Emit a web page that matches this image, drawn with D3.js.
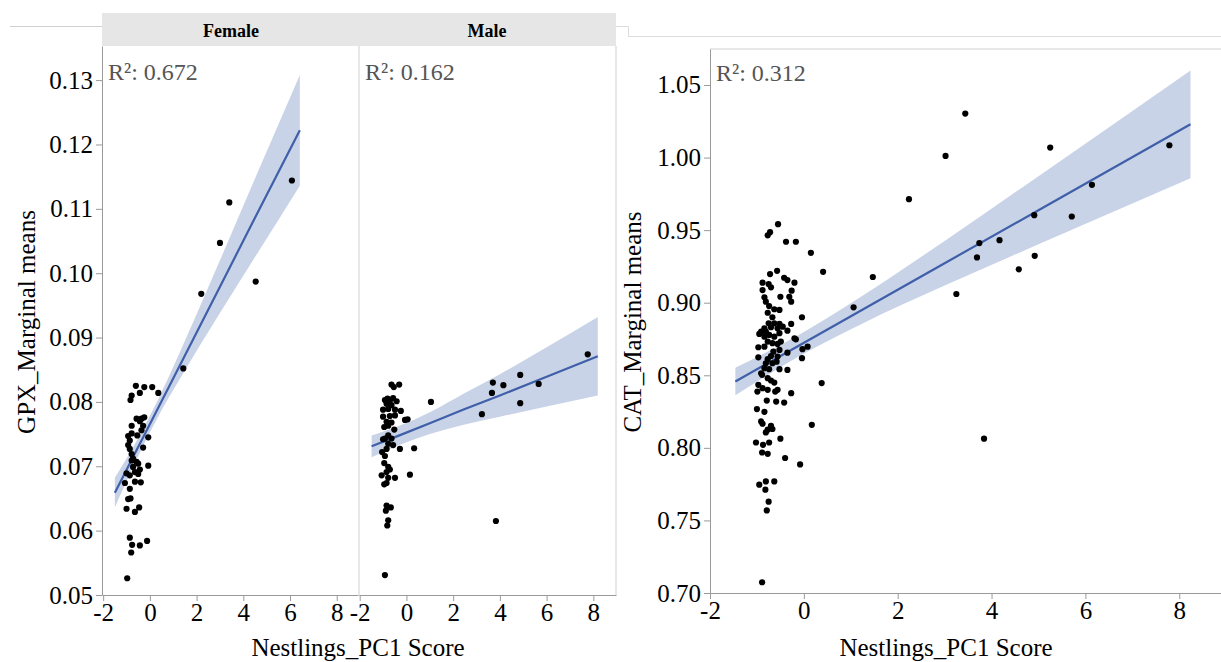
<!DOCTYPE html>
<html>
<head>
<meta charset="utf-8">
<script src="https://cdn.jsdelivr.net/npm/d3@7"></script>
<style>
  body { margin: 0; background: #fff; }
  svg, svg text { font-family: "Liberation Serif", "Times New Roman", Times, serif !important; }
</style>
</head>
<body>
<div id="chart"></div>
<script>
// ---- data ----
var femaleX = [1.43,-0.60,-0.78,-0.83,-0.43,-0.24,0.10,0.36,-0.57,-0.36,-0.24,-0.43,-0.78,-0.29,-0.36,-0.54,-0.78,-0.93,-0.07,-0.86,
  -0.93,-0.29,-0.86,-0.78,-0.72,-0.78,-0.57,-0.50,-0.07,-0.72,-0.43,-1.00,-0.64,-0.86,-0.50,-1.07,-0.64,-0.39,-0.86,-0.93,
  -0.83,-1.00,-0.64,-0.46,-0.86,-0.76,-0.80,-0.43,-0.12,-0.97,6.08,3.40,3.00,2.20,4.53]
var femaleY = [0.0852,0.0825,0.0810,0.0803,0.0814,0.0823,0.0823,0.0814,0.0774,0.0774,0.0776,0.0770,0.0763,0.0763,0.0756,0.0748,0.0751,0.0747,0.0745,0.0740,
  0.0733,0.0729,0.0727,0.0719,0.0712,0.0709,0.0707,0.0704,0.0701,0.0699,0.0695,0.0689,0.0691,0.0686,0.0688,0.0674,0.0676,0.0675,0.0665,0.0649,
  0.0650,0.0634,0.0629,0.0636,0.0589,0.0578,0.0566,0.0577,0.0584,0.0526,0.1144,0.1110,0.1047,0.0968,0.0987]

var maleX = [7.76,4.87,3.70,4.15,5.66,3.66,4.87,1.05,3.23,0.33,0.15,3.83,-0.92,
  -0.64,-0.54,-0.31,-0.92,-0.81,-0.71,-0.57,-0.42,-0.85,-0.64,-1.00,-0.78,-0.49,-0.24,-1.00,-0.71,-0.49,-0.06,0.05,
  -0.85,-0.64,-0.95,-0.78,-0.52,-0.78,-0.92,-0.64,-1.00,-0.57,-0.78,-0.85,-0.28,-1.04,-0.92,-0.95,-0.78,-0.71,-0.85,
  -1.06,-0.78,-0.49,-0.95,-0.85,-0.85,-0.67,-0.88,-0.78,-0.82]
var maleY = [0.0874,0.0842,0.0830,0.0826,0.0828,0.0814,0.0798,0.0800,0.0781,0.0728,0.0687,0.0615,0.0531,
  0.0827,0.0823,0.0827,0.0803,0.0805,0.0802,0.0806,0.0801,0.0797,0.0795,0.0788,0.0789,0.0788,0.0786,0.0777,0.0778,0.0779,0.0772,0.0773,
  0.0769,0.0768,0.0761,0.0763,0.0757,0.0748,0.0743,0.0743,0.0742,0.0733,0.0735,0.0727,0.0727,0.0722,0.0716,0.0705,0.0699,0.0695,0.0691,
  0.0686,0.0682,0.0682,0.0672,0.0674,0.0639,0.0636,0.0631,0.0616,0.0608]

var catX = [-0.55,-0.72,-0.77,-0.38,-0.17,0.15,-0.57,0.41,-0.72,-0.42,-0.35,-0.20,-0.88,-0.75,-0.88,-0.70,-0.26,-0.50,-0.31,-0.27,
  -0.84,-0.81,-0.74,-0.63,-0.52,-0.77,1.06,-0.04,-0.67,-0.75,-0.63,-0.52,-0.27,-0.84,-0.91,-0.81,-0.70,-0.56,-0.45,-0.35,
  -0.95,-0.84,-0.74,-0.63,-0.52,-0.20,-0.17,-0.77,-0.67,-0.56,-0.49,-0.97,-0.84,-0.03,0.08,-0.65,-0.52,-0.35,-0.56,-0.97,
  -0.77,-0.70,-0.04,-0.67,-0.58,-0.81,-0.84,-0.74,-0.52,-0.35,-0.91,-0.89,-0.77,-0.70,-0.63,-0.97,-0.88,0.38,-0.99,-0.77,
  -0.61,-0.56,-0.27,-0.79,-0.59,-0.42,-1.00,-0.84,-0.91,-0.88,-0.70,-0.67,-0.77,-0.81,0.17,-0.50,-1.02,-0.87,-0.74,-0.89,
  -0.77,-0.40,-0.08,-0.95,-0.81,-0.63,-0.82,-0.75,-0.79,-0.89,
  3.44,3.02,5.25,7.79,2.24,6.14,4.91,5.71,3.74,4.17,3.69,4.92,4.58,1.47,3.25,3.84]
var catY = [0.9541,0.9486,0.9464,0.9420,0.9420,0.9344,0.9220,0.9213,0.9197,0.9172,0.9156,0.9138,0.9138,0.9129,0.9087,0.9106,0.9083,0.9041,0.9041,0.9007,
  0.9037,0.9007,0.8977,0.8955,0.8950,0.8931,0.8968,0.8900,0.8900,0.8858,0.8858,0.8854,0.8854,0.8824,0.8801,0.8801,0.8831,0.8824,0.8835,0.8807,
  0.8785,0.8766,0.8778,0.8766,0.8790,0.8755,0.8748,0.8732,0.8721,0.8716,0.8732,0.8693,0.8697,0.8680,0.8697,0.8663,0.8675,0.8656,0.8629,0.8624,
  0.8611,0.8633,0.8618,0.8583,0.8594,0.8583,0.8549,0.8542,0.8542,0.8537,0.8514,0.8503,0.8480,0.8464,0.8450,0.8434,0.8411,0.8446,0.8388,0.8400,
  0.8388,0.8400,0.8377,0.8326,0.8319,0.8312,0.8267,0.8248,0.8182,0.8166,0.8152,0.8130,0.8125,0.8106,0.8159,0.8063,0.8037,0.8021,0.8037,0.7968,
  0.7959,0.7930,0.7886,0.7746,0.7769,0.7769,0.7712,0.7629,0.7569,0.7074,
  1.0303,1.0011,1.0069,1.0085,0.9713,0.9812,0.9603,0.9594,0.9411,0.9431,0.9312,0.9323,0.9230,0.9177,0.9060,0.8063]

// fitted line and 95% band, sampled along x
var femaleFitX  = [-1.5, -0.5, 0.5, 1.5, 3, 4.5, 6.42]
var femaleFit   = [0.0659, 0.0730, 0.0801, 0.0872, 0.0979, 0.1086, 0.1222]
var femaleLo    = [0.0636, 0.0716, 0.0787, 0.0849, 0.0938, 0.1025, 0.1136]
var femaleHi    = [0.0682, 0.0744, 0.0815, 0.0895, 0.1020, 0.1147, 0.1308]

var maleFitX = [-1.49, -0.3, 1, 2.5, 4, 6, 8.19]
var maleFit  = [0.0731, 0.0748, 0.0767, 0.0789, 0.0810, 0.0839, 0.0871]
var maleLo   = [0.0714, 0.0733, 0.0750, 0.0765, 0.0777, 0.0793, 0.0810]
var maleHi   = [0.0748, 0.0763, 0.0784, 0.0814, 0.0843, 0.0885, 0.0932]

var catFitX = [-1.46, -0.1, 1.2, 3, 5, 8.24]
var catFit  = [0.8457, 0.8705, 0.8943, 0.9272, 0.9637, 1.0229]
var catLo   = [0.8362, 0.8631, 0.8849, 0.9118, 0.9402, 0.9858]
var catHi   = [0.8552, 0.8779, 0.9037, 0.9426, 0.9872, 1.0600]

var xTicks = [-2, 0, 2, 4, 6, 8]
var gpxTicks = [0.05, 0.06, 0.07, 0.08, 0.09, 0.10, 0.11, 0.12, 0.13]
var catTicks = [0.70, 0.75, 0.80, 0.85, 0.90, 0.95, 1.00, 1.05]

var serif = '"Liberation Serif", "Times New Roman", Times, serif'
var axisGray = '#9a9a9a'
var bandFill = '#c9d3e8'
var lineBlue = '#3f5fa8'

var svg = d3.select('#chart').append('svg')
  .attr('width', 1221).attr('height', 662)
  .style('font-family', serif)

// decorative frame lines from the composite figure
svg.append('line').attr('x1', 10).attr('x2', 102).attr('y1', 26.5).attr('y2', 26.5)
  .attr('stroke', '#d0d0d0')
svg.append('path').attr('d', 'M616,26.5H628.5V36.5H1221')
  .attr('fill', 'none').attr('stroke', '#dcdcdc')

// header strip
svg.append('rect').attr('x', 102).attr('y', 13).attr('width', 514).attr('height', 33)
  .attr('fill', '#e6e6e6')
svg.append('text').attr('x', 231).attr('y', 37).attr('text-anchor', 'middle')
  .style('font-family', serif)
  .attr('font-size', '18px').attr('font-weight', 'bold').text('Female')
svg.append('text').attr('x', 487).attr('y', 37).attr('text-anchor', 'middle')
  .style('font-family', serif)
  .attr('font-size', '18px').attr('font-weight', 'bold').text('Male')

// y scales
var gpxY = d3.scaleLinear().domain([0.05, 0.1353]).range([595, 46])
var catYs = d3.scaleLinear().domain([0.70, 1.0748]).range([593, 49])

function zip(a, b) { return a.map(function(v, i){ return [v, b[i]] }) }

function styleAxis(sel) {
  sel.attr('font-family', serif)
  sel.selectAll('path, line').attr('stroke', axisGray)
  sel.selectAll('text').attr('font-size', '25px').attr('fill', '#000')
    .style('font-family', serif)
}

var clipId = 0
function drawPanel(p) {
  var g = svg.append('g')
  var x = p.x
  var y = p.y
  var r = x.range(), yr = y.range()
  clipId++
  svg.append('clipPath').attr('id', 'clip' + clipId).append('rect')
    .attr('x', r[0]).attr('y', yr[1]).attr('width', r[1] - r[0]).attr('height', yr[0] - yr[1])
  var inner = g.append('g').attr('clip-path', 'url(#clip' + clipId + ')')

  // confidence band
  var bandData = p.fitX.map(function(v, i){ return {x: v, lo: p.lo[i], hi: p.hi[i]} })
  inner.append('path').datum(bandData)
    .attr('fill', bandFill)
    .attr('d', d3.area().curve(d3.curveMonotoneX)
      .x(function(d){ return x(d.x) })
      .y0(function(d){ return y(d.lo) })
      .y1(function(d){ return y(d.hi) }))
  // fit line
  inner.append('path').datum(zip(p.fitX, p.fit))
    .attr('fill', 'none').attr('stroke', lineBlue).attr('stroke-width', 2.2)
    .attr('d', d3.line().x(function(d){ return x(d[0]) }).y(function(d){ return y(d[1]) }))
  // points
  inner.selectAll('circle').data(zip(p.px, p.py)).enter().append('circle')
    .attr('cx', function(d){ return x(d[0]) })
    .attr('cy', function(d){ return y(d[1]) })
    .attr('r', 3.1).attr('fill', '#000')

  // x axis, minor then major
  var minor = d3.range(-2, 9, 1)
  var xa = g.append('g').attr('transform', 'translate(0,' + yr[0] + ')')
  xa.call(d3.axisBottom(x).tickValues(minor).tickSize(3).tickFormat(''))
  xa.call(d3.axisBottom(x).tickValues(xTicks).tickSize(6).tickSizeOuter(0).tickPadding(2)
    .tickFormat(function(d){ return d < 0 ? '-' + Math.abs(d) : String(d) }))
  styleAxis(xa)

  // R² label
  g.append('text').attr('x', r[0] + 6).attr('y', p.r2y).attr('font-size', '24px')
    .style('font-family', serif)
    .attr('fill', '#555').text('R²: ' + p.r2)
  return g
}

// Female
var femX = d3.scaleLinear().domain([-2.05, 8.91]).range([102, 358])
drawPanel({x: femX, y: gpxY, px: femaleX, py: femaleY, fitX: femaleFitX, fit: femaleFit,
  lo: femaleLo, hi: femaleHi, r2: '0.672', r2y: 80})
// Male
var malX = d3.scaleLinear().domain([-2.03, 8.97]).range([359, 616])
drawPanel({x: malX, y: gpxY, px: maleX, py: maleY, fitX: maleFitX, fit: maleFit,
  lo: maleLo, hi: maleHi, r2: '0.162', r2y: 80})
// panel borders
svg.append('line').attr('x1', 359).attr('x2', 359).attr('y1', 46).attr('y2', 595).attr('stroke', '#cfcfcf')
svg.append('line').attr('x1', 616).attr('x2', 616).attr('y1', 46).attr('y2', 595).attr('stroke', '#cfcfcf')

// GPX y axis
var gy = svg.append('g').attr('transform', 'translate(102,0)')
gy.call(d3.axisLeft(gpxY).tickValues(d3.range(0.05, 0.1351, 0.005)).tickSize(3).tickFormat(''))
gy.call(d3.axisLeft(gpxY).tickValues(gpxTicks).tickSize(6).tickSizeOuter(0).tickPadding(3)
  .tickFormat(d3.format('.2f')))
styleAxis(gy)

// CAT panel
var catXs = d3.scaleLinear().domain([-2, 8.89]).range([710, 1221])
drawPanel({x: catXs, y: catYs, px: catX, py: catY, fitX: catFitX, fit: catFit,
  lo: catLo, hi: catHi, r2: '0.312', r2y: 81})
svg.append('line').attr('x1', 710).attr('x2', 1221).attr('y1', 49).attr('y2', 49).attr('stroke', '#cfcfcf')
var cy = svg.append('g').attr('transform', 'translate(710,0)')
cy.call(d3.axisLeft(catYs).tickValues(d3.range(0.70, 1.0751, 0.025)).tickSize(3).tickFormat(''))
cy.call(d3.axisLeft(catYs).tickValues(catTicks).tickSize(6).tickSizeOuter(0).tickPadding(3)
  .tickFormat(d3.format('.2f')))
styleAxis(cy)

// axis titles
function title(sel) { return sel.attr('text-anchor', 'middle').attr('font-size', '25px').style('font-family', serif) }
title(svg.append('text').attr('transform', 'translate(35,322) rotate(-90)')).text('GPX_Marginal means')
title(svg.append('text').attr('transform', 'translate(641,322) rotate(-90)')).text('CAT_Marginal means')
title(svg.append('text').attr('x', 358).attr('y', 656)).text('Nestlings_PC1 Score')
title(svg.append('text').attr('x', 946).attr('y', 656)).text('Nestlings_PC1 Score')
</script>
</body>
</html>
